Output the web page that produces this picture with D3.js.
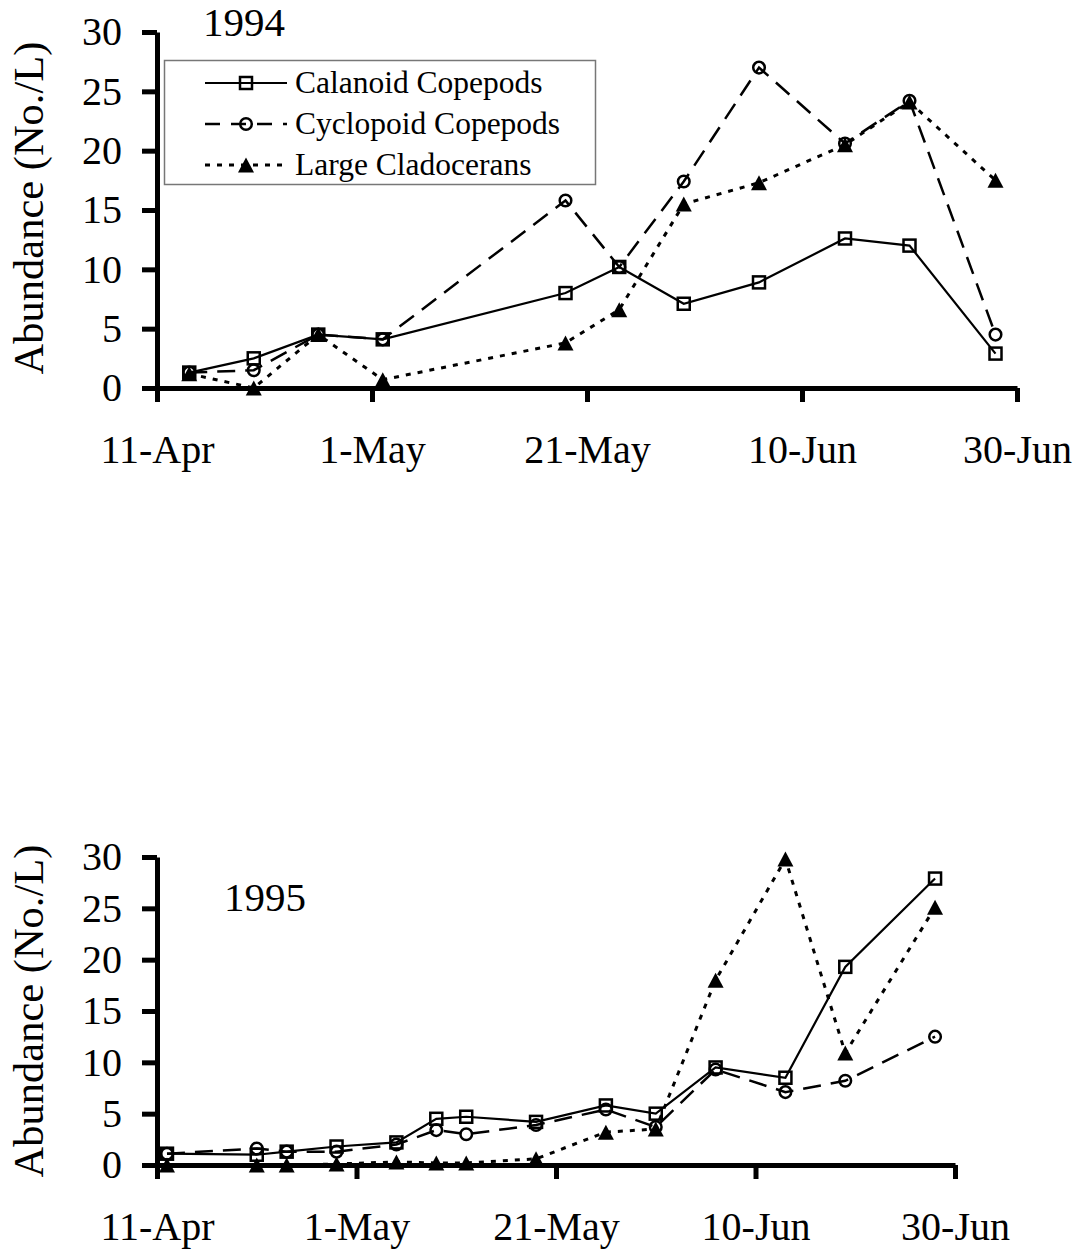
<!DOCTYPE html>
<html>
<head>
<meta charset="utf-8">
<script src="https://cdn.jsdelivr.net/npm/d3@7"></script>
<style>
  html, body { margin: 0; padding: 0; background: #fff; }
  svg { display: block; font-family: "Liberation Serif", "Times New Roman", serif; }
</style>
</head>
<body>
<svg id="chart" width="1085" height="1255"></svg>
<script>
// Sampling dates and abundances (No./L), 1994 season
const dates1994 = ["14-Apr","20-Apr","26-Apr","2-May","19-May","24-May","30-May","6-Jun","14-Jun","20-Jun","28-Jun"];
const calanoid1994   = [1.3, 2.5, 4.5, 4.1, 8.0, 10.2, 7.1, 8.9, 12.6, 12.0, 2.9];
const cyclopoid1994  = [1.3, 1.5, 4.5, 4.1, 15.8, 10.2, 17.4, 27.0, 20.6, 24.2, 4.5];
const cladoceran1994 = [1.2, 0.0, 4.5, 0.7, 3.8, 6.6, 15.5, 17.3, 20.5, 24.1, 17.5];

// Sampling dates and abundances (No./L), 1995 season
const dates1995 = ["12-Apr","21-Apr","24-Apr","29-Apr","5-May","9-May","12-May","19-May","26-May","31-May","6-Jun","13-Jun","19-Jun","28-Jun"];
const calanoid1995   = [1.1, 1.0, 1.3, 1.8, 2.2, 4.5, 4.7, 4.2, 5.8, 5.0, 9.5, 8.5, 19.3, 27.9];
const cyclopoid1995  = [1.1, 1.6, 1.3, 1.3, 2.0, 3.4, 3.0, 3.9, 5.4, 3.7, 9.3, 7.1, 8.2, 12.5];
const cladoceran1995 = [0.0, 0.0, 0.0, 0.1, 0.3, 0.2, 0.2, 0.6, 3.2, 3.5, 18.0, 29.8, 10.9, 25.1];

// Axis ticks
const xTickLabels = ["11-Apr","1-May","21-May","10-Jun","30-Jun"];
const yTicks = [0, 5, 10, 15, 20, 25, 30];
const seriesNames = ["Calanoid Copepods","Cyclopoid Copepods","Large Cladocerans"];

const svg = d3.select("#chart");
const parseDay = (s, yr) => d3.timeParse("%d-%b-%Y")(s + "-" + yr);

// Line styles and marker shapes for the three groups
const styles = [
  { dash: null,    width: 2.2, marker: "square"   },
  { dash: "18,10", width: 2.5, marker: "circle"   },
  { dash: "5,7",   width: 3,   marker: "triangle" }
];

function drawMarker(g, kind, x, y) {
  if (kind === "square") {
    g.append("rect").attr("x", x - 6).attr("y", y - 6).attr("width", 12).attr("height", 12)
      .attr("fill", "none").attr("stroke", "#000").attr("stroke-width", 2.5);
  } else if (kind === "circle") {
    g.append("circle").attr("cx", x).attr("cy", y).attr("r", 5.8)
      .attr("fill", "none").attr("stroke", "#000").attr("stroke-width", 2.5);
  } else {
    g.append("path").attr("d", `M${x},${y - 7.5}L${x + 8},${y + 7.5}L${x - 8},${y + 7.5}Z`)
      .attr("fill", "#000");
  }
}

function drawPanel(cfg) {
  const x = d3.scaleTime()
    .domain([parseDay(xTickLabels[0], cfg.year), parseDay(xTickLabels[xTickLabels.length - 1], cfg.year)])
    .range([cfg.left, cfg.right]);
  const y = d3.scaleLinear().domain([0, 30]).range([cfg.bottom, cfg.top]);

  const g = svg.append("g");

  // series
  const series = [cfg.calanoid, cfg.cyclopoid, cfg.cladoceran];
  const dates = cfg.dates.map(d => parseDay(d, cfg.year));
  series.forEach((vals, i) => {
    const pts = vals.map((v, j) => [x(dates[j]), y(v)]);
    g.append("path")
      .attr("d", d3.line()(pts))
      .attr("fill", "none")
      .attr("stroke", "#000")
      .attr("stroke-width", styles[i].width)
      .attr("stroke-dasharray", styles[i].dash);
    const mg = g.append("g");
    pts.forEach(p => drawMarker(mg, styles[i].marker, p[0], p[1]));
  });

  // axes
  const yAxis = d3.axisLeft(y).tickValues(yTicks).tickSize(15).tickSizeOuter(0).tickPadding(20);
  const xAxis = d3.axisBottom(x)
    .tickValues(xTickLabels.map(t => parseDay(t, cfg.year)))
    .tickFormat(d3.timeFormat("%-d-%b"))
    .tickSize(14).tickSizeOuter(0).tickPadding(33);

  const ya = g.append("g").attr("transform", `translate(${cfg.left},0)`).call(yAxis);
  const xa = g.append("g").attr("transform", `translate(0,${cfg.bottom})`).call(xAxis);
  [ya, xa].forEach(a => {
    a.select(".domain").attr("stroke-width", 5).attr("stroke", "#000");
    a.selectAll(".tick line").attr("stroke-width", 5).attr("stroke", "#000");
    a.selectAll(".tick text").attr("font-size", 40).attr("font-family", "Liberation Serif").attr("fill", "#000");
  });

  // y-axis title
  g.append("text")
    .attr("transform", `translate(43,${cfg.labelY}) rotate(-90)`)
    .attr("text-anchor", "middle")
    .attr("font-size", 42.5)
    .text("Abundance (No./L)");

  // year label
  g.append("text").attr("x", cfg.yearX).attr("y", cfg.yearY)
    .attr("font-size", 41).text(String(cfg.year));

  return g;
}

drawPanel({
  year: 1994, dates: dates1994,
  calanoid: calanoid1994, cyclopoid: cyclopoid1994, cladoceran: cladoceran1994,
  left: 157, right: 1017, top: 32, bottom: 388, labelY: 208, yearX: 203, yearY: 36
});

drawPanel({
  year: 1995, dates: dates1995,
  calanoid: calanoid1995, cyclopoid: cyclopoid1995, cladoceran: cladoceran1995,
  left: 157, right: 955, top: 857, bottom: 1165, labelY: 1011, yearX: 224, yearY: 911
});

// legend (upper panel)
const lg = svg.append("g");
lg.append("rect").attr("x", 164.5).attr("y", 60.5).attr("width", 431).attr("height", 124)
  .attr("fill", "#fff").attr("stroke", "#777").attr("stroke-width", 1.5);
seriesNames.forEach((name, i) => {
  const cy = 83 + i * 41;
  lg.append("line").attr("x1", 205).attr("x2", 287).attr("y1", cy).attr("y2", cy)
    .attr("stroke", "#000").attr("stroke-width", styles[i].width)
    .attr("stroke-dasharray", i === 1 ? "15,11" : styles[i].dash);
  drawMarker(lg, styles[i].marker, 246, cy);
  lg.append("text").attr("x", 295).attr("y", cy + 10).attr("font-size", 31.5).text(name);
});
</script>
</body>
</html>
